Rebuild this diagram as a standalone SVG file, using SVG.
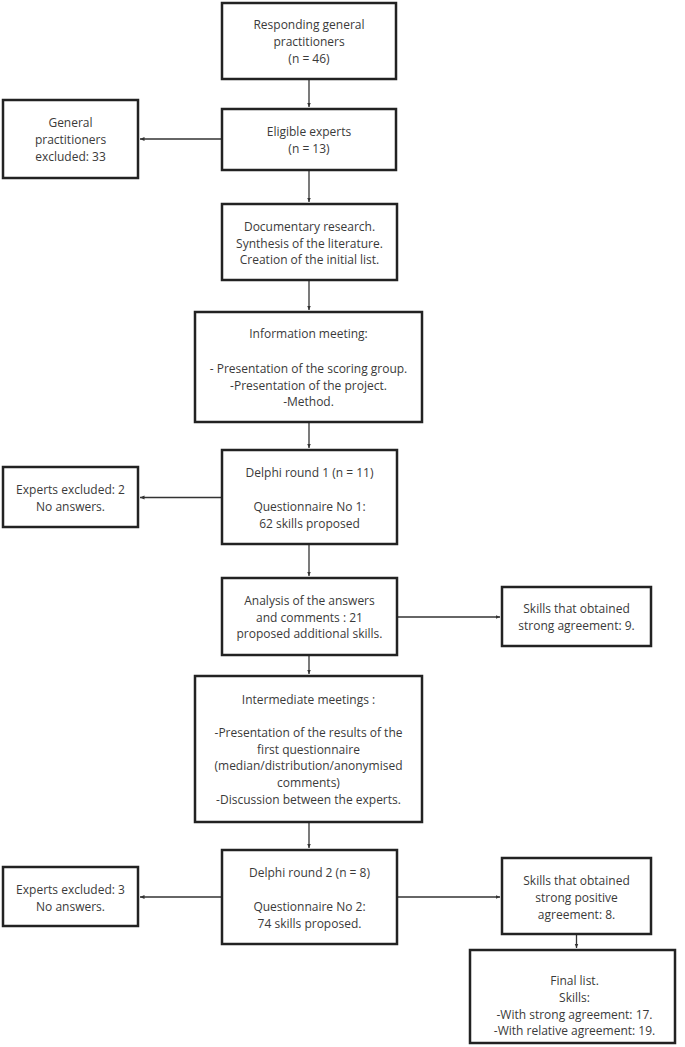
<svg xmlns="http://www.w3.org/2000/svg" width="685" height="1047" viewBox="0 0 685 1047">
<style>
.box{fill:#fff;stroke:#222;stroke-width:2.5}
.t{font-family:"Open Sans","Liberation Sans",sans-serif;font-size:12px;fill:#3a3a3a;text-anchor:middle}
.c{stroke:#333;stroke-width:1.3;fill:none;marker-end:url(#ah)}
</style>
<defs>
<marker id="ah" markerUnits="userSpaceOnUse" markerWidth="5" markerHeight="5" refX="4.5" refY="2.5" orient="auto">
<path d="M0,0.5 L4.5,2.5 L0,4.5 z" fill="#333"/>
</marker>
</defs>
<rect width="685" height="1047" fill="#fff"/>
<g id="connectors">
<line class="c" x1="309" y1="80" x2="309" y2="107"/>
<line class="c" x1="221" y1="139" x2="140" y2="139"/>
<line class="c" x1="309" y1="171" x2="309" y2="202"/>
<line class="c" x1="309" y1="281" x2="309" y2="310"/>
<line class="c" x1="309" y1="423" x2="309" y2="448"/>
<line class="c" x1="221" y1="497.5" x2="140" y2="497.5"/>
<line class="c" x1="309" y1="545" x2="309" y2="576"/>
<line class="c" x1="398" y1="617" x2="500" y2="617"/>
<line class="c" x1="309" y1="656" x2="309" y2="674"/>
<line class="c" x1="309" y1="823" x2="309" y2="848"/>
<line class="c" x1="221" y1="897" x2="140" y2="897"/>
<line class="c" x1="398" y1="897" x2="500" y2="897"/>
<line class="c" x1="576.5" y1="935" x2="576.5" y2="948"/>
</g>
<g id="responding">
<rect class="box" x="222" y="3" width="174" height="76"/>
<text class="t" x="309" y="29">Responding general</text>
<text class="t" x="309" y="46">practitioners</text>
<text class="t" x="309" y="63">(n = 46)</text>
</g>
<g id="eligible">
<rect class="box" x="222" y="109" width="174" height="61"/>
<text class="t" x="309" y="136">Eligible experts</text>
<text class="t" x="309" y="153">(n = 13)</text>
</g>
<g id="gp-excluded">
<rect class="box" x="3" y="100" width="135" height="78"/>
<text class="t" x="70.5" y="127">General</text>
<text class="t" x="70.5" y="144">practitioners</text>
<text class="t" x="70.5" y="161">excluded: 33</text>
</g>
<g id="documentary">
<rect class="box" x="222" y="204" width="175" height="76"/>
<text class="t" x="309.5" y="231">Documentary research.</text>
<text class="t" x="309.5" y="247.5">Synthesis of the literature.</text>
<text class="t" x="309.5" y="264">Creation of the initial list.</text>
</g>
<g id="information">
<rect class="box" x="195" y="312" width="227" height="110"/>
<text class="t" x="308.5" y="338">Information meeting:</text>
<text class="t" x="308.5" y="373">- Presentation of the scoring group.</text>
<text class="t" x="308.5" y="390">-Presentation of the project.</text>
<text class="t" x="308.5" y="406">-Method.</text>
</g>
<g id="delphi1">
<rect class="box" x="222" y="450" width="175" height="94"/>
<text class="t" x="309.5" y="477">Delphi round 1 (n = 11)</text>
<text class="t" x="309.5" y="511">Questionnaire No 1:</text>
<text class="t" x="309.5" y="528">62 skills proposed</text>
</g>
<g id="excluded2">
<rect class="box" x="3" y="467" width="135" height="60"/>
<text class="t" x="70.5" y="494">Experts excluded: 2</text>
<text class="t" x="70.5" y="511">No answers.</text>
</g>
<g id="analysis">
<rect class="box" x="222" y="578" width="175" height="77"/>
<text class="t" x="309.5" y="605">Analysis of the answers</text>
<text class="t" x="309.5" y="622">and comments : 21</text>
<text class="t" x="309.5" y="638">proposed additional skills.</text>
</g>
<g id="strong9">
<rect class="box" x="502" y="587" width="149" height="59"/>
<text class="t" x="576.5" y="613">Skills that obtained</text>
<text class="t" x="576.5" y="630">strong agreement: 9.</text>
</g>
<g id="intermediate">
<rect class="box" x="195" y="676" width="227" height="146"/>
<text class="t" x="308.5" y="704">Intermediate meetings :</text>
<text class="t" x="308.5" y="737">-Presentation of the results of the</text>
<text class="t" x="308.5" y="753.5">first questionnaire</text>
<text class="t" x="308.5" y="770">(median/distribution/anonymised</text>
<text class="t" x="308.5" y="787">comments)</text>
<text class="t" x="308.5" y="803.5">-Discussion between the experts.</text>
</g>
<g id="delphi2">
<rect class="box" x="222" y="850" width="175" height="94"/>
<text class="t" x="309.5" y="877">Delphi round 2 (n = 8)</text>
<text class="t" x="309.5" y="911">Questionnaire No 2:</text>
<text class="t" x="309.5" y="927.5">74 skills proposed.</text>
</g>
<g id="excluded3">
<rect class="box" x="3" y="867" width="135" height="59"/>
<text class="t" x="70.5" y="893.5">Experts excluded: 3</text>
<text class="t" x="70.5" y="910.5">No answers.</text>
</g>
<g id="strong8">
<rect class="box" x="502" y="858" width="149" height="76"/>
<text class="t" x="576.5" y="885">Skills that obtained</text>
<text class="t" x="576.5" y="902">strong positive</text>
<text class="t" x="576.5" y="918.5">agreement: 8.</text>
</g>
<g id="final">
<rect class="box" x="470" y="950" width="205" height="93"/>
<text class="t" x="574.5" y="985">Final list.</text>
<text class="t" x="574.5" y="1002">Skills:</text>
<text class="t" x="574.5" y="1018.5">-With strong agreement: 17.</text>
<text class="t" x="574.5" y="1035">-With relative agreement: 19.</text>
</g>
</svg>
